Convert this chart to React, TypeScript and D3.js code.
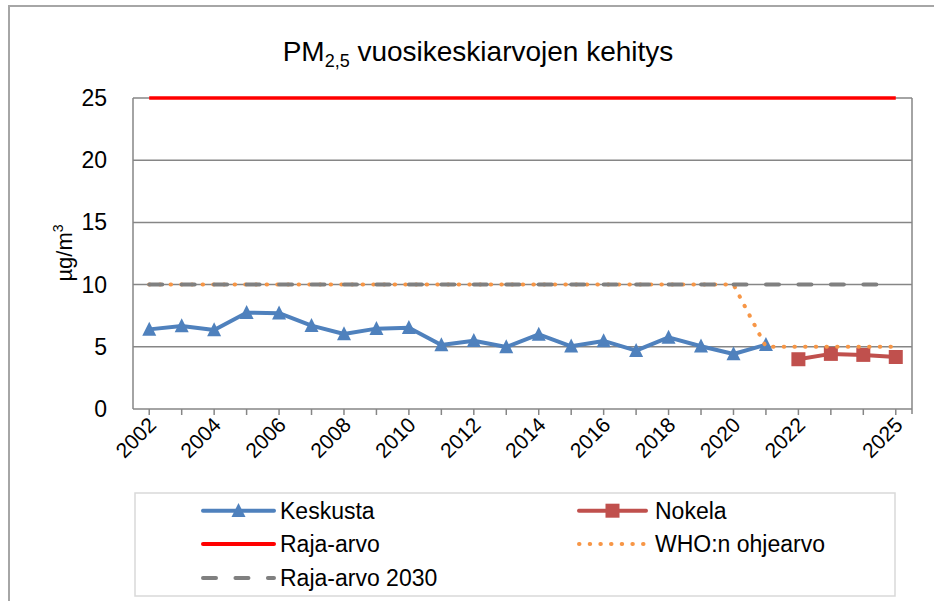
import React from "react";
import * as d3 from "d3";

const years = ["2002","2003","2004","2005","2006","2007","2008","2009","2010","2011","2012","2013","2014","2015","2016","2017","2018","2019","2020","2021","2022","2023","2024","2025"];
const xTickLabels = ["2002","","2004","","2006","","2008","","2010","","2012","","2014","","2016","","2018","","2020","","2022","","","2025"];
const keskusta: (number | null)[] = [6.4, 6.67, 6.35, 7.74, 7.7, 6.7, 6.03, 6.46, 6.54, 5.14, 5.49, 4.98, 6.0, 5.04, 5.47, 4.69, 5.76, 5.04, 4.42, 5.17, null, null, null, null];
const nokela: (number | null)[] = [null, null, null, null, null, null, null, null, null, null, null, null, null, null, null, null, null, null, null, null, 4.0, 4.43, 4.35, 4.18];
const rajaArvo: number[] = [25, 25, 25, 25, 25, 25, 25, 25, 25, 25, 25, 25, 25, 25, 25, 25, 25, 25, 25, 25, 25, 25, 25, 25];
const whoOhjearvo: number[] = [10, 10, 10, 10, 10, 10, 10, 10, 10, 10, 10, 10, 10, 10, 10, 10, 10, 10, 10, 5, 5, 5, 5, 5];
const rajaArvo2030: number[] = [10, 10, 10, 10, 10, 10, 10, 10, 10, 10, 10, 10, 10, 10, 10, 10, 10, 10, 10, 10, 10, 10, 10, 10];
const yTicks = [0, 5, 10, 15, 20, 25];

const FONT = "'Liberation Sans', Arial, sans-serif";
const BLUE = "#4F81BD";
const RED_M = "#C0504D";
const RED = "#FF0000";
const ORANGE = "#F79646";
const GRAY = "#868686";

export default function App() {
  const W = 934, H = 601;
  const left = 133, right = 912, top = 98, bottom = 409;
  const x = d3.scalePoint<string>().domain(years).range([left, right]).padding(0.5);
  const y = d3.scaleLinear().domain([0, 25]).range([bottom, top]);

  const mk = (vals: (number | null)[]) =>
    d3.line<number | null>()
      .defined((d) => d !== null)
      .x((_, i) => x(years[i]) as number)
      .y((d) => y(d as number))(vals) || "";

  const tri = (cx: number, cy: number, s: number) =>
    `M${cx},${cy - s * 0.55}L${cx + s / 2},${cy + s * 0.45}L${cx - s / 2},${cy + s * 0.45}Z`;

  const legRows = [510.7, 544, 578];
  const col1 = { x0: 203, x1: 274, tx: 280 };
  const col2 = { x0: 579, x1: 646, tx: 655 };
  const LFS = 23;

  return (
    <div style={{ position: "absolute", left: 0, top: 0 }}>
      <svg width={W} height={H} style={{ display: "block", background: "#fff" }}>
        <rect x={9} y={6} width={W + 10} height={H + 10} fill="#fff" stroke="#A6A6A6" strokeWidth={2} />
        {/* title */}
        <text x={478} y={61} textAnchor="middle" fontFamily={FONT} fontSize={28} fill="#000">
          PM<tspan fontSize={18} dy={6}>2,5</tspan><tspan dy={-6}> vuosikeskiarvojen kehitys</tspan>
        </text>
        {/* gridlines */}
        {yTicks.filter((t) => t > 0).map((t) => (
          <line key={t} x1={left} x2={right} y1={y(t)} y2={y(t)} stroke={GRAY} strokeWidth={1.5} />
        ))}
        {/* axes */}
        <line x1={left} x2={left} y1={top} y2={bottom} stroke={GRAY} strokeWidth={1.5} />
        <line x1={right} x2={right} y1={top} y2={bottom + 5} stroke={GRAY} strokeWidth={1.5} />
        <line x1={left} x2={right} y1={bottom} y2={bottom} stroke={GRAY} strokeWidth={1.5} />
        {years.map((yr) => (
          <line key={yr} x1={x(yr)} x2={x(yr)} y1={bottom} y2={bottom + 6} stroke={GRAY} strokeWidth={1.5} />
        ))}
        {/* y tick labels */}
        {yTicks.map((t) => (
          <text key={t} x={107} y={y(t)} dy="0.35em" textAnchor="end" fontFamily={FONT} fontSize={23} fill="#000">{t}</text>
        ))}
        {/* y title */}
        <text transform="translate(72,253) rotate(-90)" textAnchor="middle" fontFamily={FONT} fontSize={22} fill="#000">
          µg/m<tspan fontSize={14} dy={-9}>3</tspan>
        </text>
        {/* x tick labels */}
        {years.map((yr, i) =>
          xTickLabels[i] ? (
            <text key={yr} transform={`translate(${(x(yr) as number) + 3},${421}) rotate(-45)`} textAnchor="end" dy="0.35em" fontFamily={FONT} fontSize={21} fill="#000">
              {xTickLabels[i]}
            </text>
          ) : null
        )}
        {/* series */}
        <path d={mk(keskusta)} fill="none" stroke={BLUE} strokeWidth={4} strokeLinejoin="round" />
        {keskusta.map((v, i) => v === null ? null : (
          <path key={i} d={tri(x(years[i]) as number, y(v), 14)} fill={BLUE} />
        ))}
        <path d={mk(nokela)} fill="none" stroke={RED_M} strokeWidth={4} strokeLinejoin="round" />
        {nokela.map((v, i) => v === null ? null : (
          <rect key={i} x={(x(years[i]) as number) - 7} y={y(v) - 7} width={14} height={14} fill={RED_M} />
        ))}
        <path d={mk(rajaArvo)} fill="none" stroke={RED} strokeWidth={3.5} />
        <path d={mk(whoOhjearvo)} fill="none" stroke={ORANGE} strokeWidth={4} strokeLinecap="round" strokeDasharray="0.5 10.17" />
        <path d={mk(rajaArvo2030)} fill="none" stroke="#808080" strokeWidth={4} strokeLinecap="round" strokeDasharray="13 19.46" />
        {/* legend */}
        <rect x={135} y={493} width={760} height={103} fill="#fff" stroke="#D9D9D9" strokeWidth={1.5} />
        <line x1={col1.x0} x2={col1.x1} y1={legRows[0]} y2={legRows[0]} stroke={BLUE} strokeWidth={4} strokeLinecap="round" />
        <path d={tri((col1.x0 + col1.x1) / 2, legRows[0], 14)} fill={BLUE} />
        <text x={col1.tx} y={legRows[0]} dy="0.35em" fontFamily={FONT} fontSize={LFS}>Keskusta</text>
        <line x1={col2.x0} x2={col2.x1} y1={legRows[0]} y2={legRows[0]} stroke={RED_M} strokeWidth={4} strokeLinecap="round" />
        <rect x={(col2.x0 + col2.x1) / 2 - 7} y={legRows[0] - 7} width={14} height={14} fill={RED_M} />
        <text x={col2.tx} y={legRows[0]} dy="0.35em" fontFamily={FONT} fontSize={LFS}>Nokela</text>
        <line x1={col1.x0} x2={col1.x1} y1={legRows[1]} y2={legRows[1]} stroke={RED} strokeWidth={4} strokeLinecap="round" />
        <text x={col1.tx} y={legRows[1]} dy="0.35em" fontFamily={FONT} fontSize={LFS}>Raja-arvo</text>
        <line x1={col2.x0} x2={col2.x1} y1={legRows[1]} y2={legRows[1]} stroke={ORANGE} strokeWidth={4} strokeLinecap="round" strokeDasharray="0.5 10.17" />
        <text x={col2.tx} y={legRows[1]} dy="0.35em" fontFamily={FONT} fontSize={LFS}>WHO:n ohjearvo</text>
        <line x1={col1.x0} x2={col1.x1} y1={legRows[2]} y2={legRows[2]} stroke="#808080" strokeWidth={4} strokeLinecap="round" strokeDasharray="13 19.46" />
        <text x={col1.tx} y={legRows[2]} dy="0.35em" fontFamily={FONT} fontSize={LFS}>Raja-arvo 2030</text>
      </svg>
    </div>
  );
}
